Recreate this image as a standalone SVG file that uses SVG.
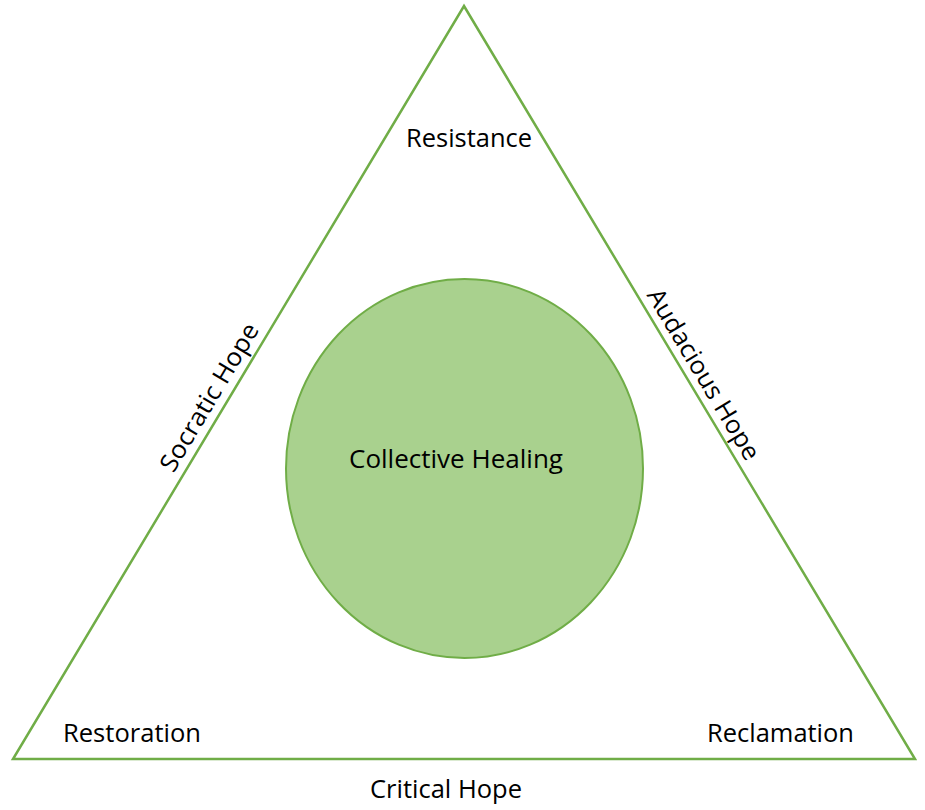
<svg xmlns="http://www.w3.org/2000/svg" width="925" height="810" viewBox="0 0 925 810">
<style>
  .lbl { font-family: "Open Sans", "Noto Sans", "Liberation Sans", sans-serif; font-size: 25px; fill: #000000; text-anchor: middle; }
  .edge { fill: none; stroke: #70AD47; stroke-width: 2.5; stroke-linejoin: miter; }
  .core { fill: #A9D18E; stroke: #70AD47; stroke-width: 2; }
</style>
<rect width="925" height="810" fill="#FFFFFF"/>
<g id="triangle">
  <polygon class="edge" points="464,6 915,759 13,759"/>
</g>
<g id="collective-healing">
  <ellipse class="core" cx="464.5" cy="468.5" rx="178.5" ry="189.5"/>
  <text class="lbl" x="456" y="468" textLength="214" lengthAdjust="spacingAndGlyphs">Collective Healing</text>
</g>
<g id="resistance">
  <text class="lbl" x="469" y="147" textLength="126" lengthAdjust="spacingAndGlyphs">Resistance</text>
</g>
<g id="restoration">
  <text class="lbl" x="132" y="742" textLength="138" lengthAdjust="spacingAndGlyphs">Restoration</text>
</g>
<g id="reclamation">
  <text class="lbl" x="780.5" y="741.5" textLength="147" lengthAdjust="spacingAndGlyphs">Reclamation</text>
</g>
<g id="socratic-hope">
  <text class="lbl" transform="translate(216.7,401.6) rotate(-59.08)" x="0" y="0" textLength="168" lengthAdjust="spacingAndGlyphs">Socratic Hope</text>
</g>
<g id="audacious-hope">
  <text class="lbl" transform="translate(696.3,378.6) rotate(59.08)" x="0" y="0" textLength="195" lengthAdjust="spacingAndGlyphs">Audacious Hope</text>
</g>
<g id="critical-hope">
  <text class="lbl" x="446" y="798" textLength="152" lengthAdjust="spacingAndGlyphs">Critical Hope</text>
</g>
<g id="connectors"></g>
</svg>
